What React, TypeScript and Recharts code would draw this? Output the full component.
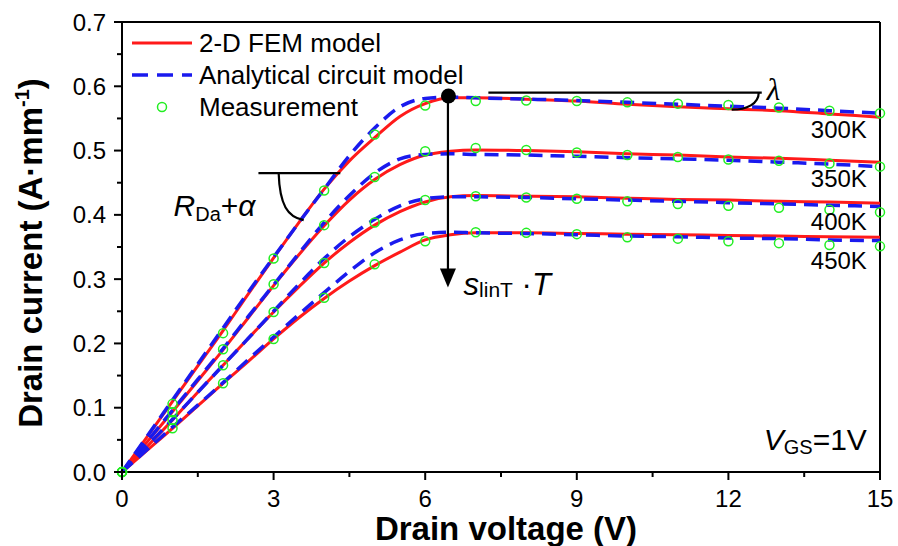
import { ComposedChart, Line, Scatter, XAxis, YAxis, ReferenceLine, ReferenceDot, Legend } from "recharts"

const FONT = "'Liberation Sans', Arial, Helvetica, sans-serif"
const RED = "#ff1a1a"
const BLUE = "#1a1aee"
const GREEN = "#22ee22"

// drain voltage grid of the model curves (V)
const curveVoltages = [0, 0.5, 1, 1.5, 2, 2.5, 3, 3.5, 4, 4.5, 5, 5.5, 6, 6.5, 7, 8, 9, 10, 11, 12, 13, 14, 15]

// 2-D FEM model (A/mm)
const fem300 = [0, 0.055, 0.11, 0.165, 0.22, 0.277, 0.333, 0.388, 0.44, 0.484, 0.52, 0.553, 0.573, 0.582, 0.582, 0.58, 0.577, 0.572, 0.568, 0.565, 0.562, 0.557, 0.552]
const fem350 = [0, 0.047, 0.094, 0.142, 0.19, 0.24, 0.29, 0.338, 0.383, 0.423, 0.455, 0.478, 0.493, 0.499, 0.501, 0.5, 0.498, 0.495, 0.493, 0.49, 0.488, 0.485, 0.482]
const fem400 = [0, 0.04, 0.081, 0.124, 0.166, 0.208, 0.249, 0.288, 0.325, 0.357, 0.384, 0.405, 0.42, 0.428, 0.43, 0.429, 0.428, 0.426, 0.424, 0.423, 0.421, 0.42, 0.418]
const fem450 = [0, 0.034, 0.068, 0.103, 0.138, 0.172, 0.207, 0.24, 0.27, 0.297, 0.321, 0.342, 0.361, 0.369, 0.372, 0.372, 0.371, 0.37, 0.369, 0.368, 0.367, 0.366, 0.365]

// analytical circuit model (A/mm)
const ana300 = [0, 0.056, 0.112, 0.168, 0.224, 0.28, 0.334, 0.388, 0.44, 0.492, 0.535, 0.568, 0.581, 0.583, 0.582, 0.58, 0.578, 0.575, 0.572, 0.569, 0.566, 0.562, 0.558]
const ana350 = [0, 0.048, 0.096, 0.144, 0.192, 0.242, 0.291, 0.34, 0.388, 0.43, 0.465, 0.487, 0.494, 0.495, 0.494, 0.493, 0.491, 0.489, 0.487, 0.485, 0.482, 0.479, 0.475]
const ana400 = [0, 0.041, 0.082, 0.124, 0.166, 0.208, 0.25, 0.292, 0.332, 0.366, 0.393, 0.414, 0.425, 0.428, 0.428, 0.427, 0.425, 0.423, 0.421, 0.419, 0.417, 0.415, 0.413]
const ana450 = [0, 0.035, 0.07, 0.104, 0.139, 0.175, 0.21, 0.245, 0.279, 0.312, 0.341, 0.361, 0.371, 0.373, 0.372, 0.371, 0.369, 0.367, 0.366, 0.364, 0.363, 0.361, 0.36]

// measurement (A/mm)
const measVoltages = [0, 1, 2, 3, 4, 5, 6, 7, 8, 9, 10, 11, 12, 13, 14, 15]
const meas300 = [0, 0.106, 0.216, 0.332, 0.438, 0.525, 0.57, 0.577, 0.578, 0.577, 0.575, 0.573, 0.571, 0.567, 0.562, 0.558]
const meas350 = [0, 0.093, 0.191, 0.292, 0.384, 0.459, 0.499, 0.504, 0.501, 0.497, 0.493, 0.49, 0.486, 0.484, 0.48, 0.475]
const meas400 = [0, 0.081, 0.166, 0.249, 0.325, 0.388, 0.423, 0.429, 0.427, 0.425, 0.421, 0.417, 0.414, 0.411, 0.408, 0.404]
const meas450 = [0, 0.068, 0.138, 0.207, 0.271, 0.323, 0.359, 0.373, 0.372, 0.37, 0.365, 0.363, 0.359, 0.356, 0.353, 0.351]

const tempLabels = ["300K", "350K", "400K", "450K"]
const legendLabels = ["2-D FEM model", "Analytical circuit model", "Measurement"]
const xTicks = [0, 1.5, 3, 4.5, 6, 7.5, 9, 10.5, 12, 13.5, 15]
const yTicks = [0, 0.05, 0.1, 0.15, 0.2, 0.25, 0.3, 0.35, 0.4, 0.45, 0.5, 0.55, 0.6, 0.65, 0.7]

// where the temperature labels sit (current value of the baseline)
const tempLabelAt = [0.52, 0.443, 0.376, 0.316]

const toPoints = (vs: number[], is: number[]) => vs.map((v, k) => ({ v, i: is[k] }))

const femSeries = [fem300, fem350, fem400, fem450].map((s) => toPoints(curveVoltages, s))
const anaSeries = [ana300, ana350, ana400, ana450].map((s) => toPoints(curveVoltages, s))
const measSeries = [meas300, meas350, meas400, meas450].map((s) => toPoints(measVoltages, s))

const XTick = (props: any) => {
  const { x, y, payload } = props
  const major = payload.value % 3 === 0
  return (
    <g>
      <line x1={x} x2={x} y1={y} y2={y + (major ? 8 : 5)} stroke="#000" strokeWidth={2} />
      {major && (
        <text x={x} y={y + 35} textAnchor="middle" fontSize={24} fontFamily={FONT} fill="#000">
          {payload.value}
        </text>
      )}
    </g>
  )
}

const YTick = (props: any) => {
  const { x, y, payload } = props
  const major = Math.abs(payload.value * 10 - Math.round(payload.value * 10)) < 1e-6
  return (
    <g>
      <line x1={x} x2={x - (major ? 8 : 5)} y1={y} y2={y} stroke="#000" strokeWidth={2} />
      {major && (
        <text x={x - 16} y={y} dy="0.36em" textAnchor="end" fontSize={24} fontFamily={FONT} fill="#000">
          {payload.value.toFixed(1)}
        </text>
      )}
    </g>
  )
}

const XTitle = (props: any) => {
  const { x, y, width } = props.viewBox
  return (
    <text x={x + width / 2 + 5} y={y + 68} textAnchor="middle" fontSize={33} fontWeight="bold" fontFamily={FONT}>
      Drain voltage (V)
    </text>
  )
}

const YTitle = (props: any) => {
  const { y, height } = props.viewBox
  const cx = 42
  const cy = y + height / 2 + 6
  return (
    <text x={cx} y={cy} transform={`rotate(-90, ${cx}, ${cy})`} textAnchor="middle" fontSize={33} fontWeight="bold" fontFamily={FONT}>
      Drain current (A·mm
      <tspan fontSize={20} dy={-13}>-1</tspan>
      <tspan dy={13}>)</tspan>
    </text>
  )
}

const LegendBox = () => (
  <svg width={500} height={130} style={{ display: "block" }}>
    <line x1={132} x2={192} y1={43} y2={43} stroke={RED} strokeWidth={3} />
    <text x={199} y={52} fontSize={26} fontFamily={FONT}>{legendLabels[0]}</text>
    <line x1={132} x2={192} y1={75} y2={75} stroke={BLUE} strokeWidth={3.5} strokeDasharray="16 9" />
    <text x={199} y={84} fontSize={26} fontFamily={FONT}>{legendLabels[1]}</text>
    <circle cx={162} cy={107} r={4.5} fill="none" stroke={GREEN} strokeWidth={1.5} />
    <text x={199} y={116} fontSize={26} fontFamily={FONT}>{legendLabels[2]}</text>
  </svg>
)

const Ring = (p: any) => <circle cx={p.cx} cy={p.cy} r={4.5} fill="none" stroke={GREEN} strokeWidth={1.5} />

// black line drawn from whatever end points the reference line gets
const blackLine = (w: number) => (p: any) => (
  <line x1={p.x1} y1={p.y1} x2={p.x2} y2={p.y2} stroke="#000" strokeWidth={w} />
)

export default function App() {
  return (
    <div style={{ position: "absolute", left: 0, top: 0, background: "#fff" }}>
      <ComposedChart width={898} height={546} margin={{ top: 22, right: 18, bottom: 0, left: 0 }}>
        <XAxis
          type="number"
          dataKey="v"
          domain={[0, 15]}
          ticks={xTicks}
          interval={0}
          tickSize={0}
          tickMargin={0}
          tick={<XTick />}
          axisLine={{ stroke: "#000", strokeWidth: 2 }}
          height={74}
          label={<XTitle />}
        />
        <YAxis
          type="number"
          dataKey="i"
          domain={[0, 0.7]}
          ticks={yTicks}
          interval={0}
          tickSize={0}
          tickMargin={0}
          tick={<YTick />}
          axisLine={{ stroke: "#000", strokeWidth: 2 }}
          width={122}
          label={<YTitle />}
        />
        <Legend layout="horizontal" verticalAlign="middle" align="center" content={<LegendBox />} wrapperStyle={{ left: 0, top: 0, width: 500, height: 130 }} />
        <ReferenceLine y={0.7} ifOverflow="visible" shape={blackLine(2)} />
        <ReferenceLine x={15} ifOverflow="visible" shape={blackLine(2)} />

        {femSeries.map((d, k) => (
          <Line key={`fem${k}`} data={d} dataKey="i" type="monotone" stroke={RED} strokeWidth={3} dot={false} activeDot={false} isAnimationActive={false} />
        ))}
        {anaSeries.map((d, k) => (
          <Line key={`ana${k}`} data={d} dataKey="i" type="monotone" stroke={BLUE} strokeWidth={3.5} strokeDasharray="14 8" dot={false} activeDot={false} isAnimationActive={false} />
        ))}
        {measSeries.map((d, k) => (
          <Scatter key={`meas${k}`} data={d} dataKey="i" shape={<Ring />} isAnimationActive={false} />
        ))}

        {/* R_Da + alpha slope annotation */}
        <ReferenceLine segment={[{ x: 2.7, y: 0.465 }, { x: 4.32, y: 0.465 }]} ifOverflow="visible" shape={blackLine(2.2)} />
        <ReferenceDot
          x={3.1}
          y={0.465}
          shape={(p: any) => (
            <path d={`M${p.cx},${p.cy} C${p.cx + 1},${p.cy + 32} ${p.cx + 9},${p.cy + 44} ${p.cx + 25},${p.cy + 47}`} fill="none" stroke="#000" strokeWidth={2.2} />
          )}
        />
        <ReferenceDot
          x={1.02}
          y={0.399}
          shape={(p: any) => (
            <text x={p.cx} y={p.cy} fontSize={30} fontFamily={FONT}>
              <tspan fontStyle="italic">R</tspan>
              <tspan fontSize={20} dy={5}>Da</tspan>
              <tspan dy={-5}>+</tspan>
              <tspan fontStyle="italic">α</tspan>
            </text>
          )}
        />

        {/* lambda annotation */}
        <ReferenceLine segment={[{ x: 7.25, y: 0.59 }, { x: 12.66, y: 0.59 }]} ifOverflow="visible" shape={blackLine(2.2)} />
        <ReferenceDot
          x={12.6}
          y={0.59}
          shape={(p: any) => (
            <path d={`M${p.cx},${p.cy} C${p.cx},${p.cy + 11} ${p.cx - 12},${p.cy + 17} ${p.cx - 27},${p.cy + 17}`} fill="none" stroke="#000" strokeWidth={2.2} />
          )}
        />
        <ReferenceDot
          x={12.76}
          y={0.578}
          shape={(p: any) => (
            <text x={p.cx} y={p.cy} fontSize={31} fontStyle="italic" fontFamily="'Liberation Serif', 'Times New Roman', serif">
              λ
            </text>
          )}
        />

        {/* saturation point and temperature arrow */}
        <ReferenceLine segment={[{ x: 6.45, y: 0.585 }, { x: 6.45, y: 0.3 }]} ifOverflow="visible" shape={blackLine(2.2)} />
        <ReferenceDot
          x={6.45}
          y={0.287}
          shape={(p: any) => (
            <polygon points={`${p.cx - 8},${p.cy - 19} ${p.cx + 8},${p.cy - 19} ${p.cx},${p.cy}`} fill="#000" />
          )}
        />
        <ReferenceDot x={6.46} y={0.585} r={7.5} fill="#000" stroke="none" />
        <ReferenceDot
          x={6.76}
          y={0.275}
          shape={(p: any) => (
            <text x={p.cx} y={p.cy} fontSize={31} fontFamily={FONT}>
              <tspan fontStyle="italic">s</tspan>
              <tspan fontSize={21} dy={2}>linT</tspan>
              <tspan dy={-2}> ·</tspan>
              <tspan fontStyle="italic">T</tspan>
            </text>
          )}
        />

        {tempLabels.map((t, k) => (
          <ReferenceDot
            key={t}
            x={14.74}
            y={tempLabelAt[k]}
            shape={(p: any) => (
              <text x={p.cx} y={p.cy} textAnchor="end" fontSize={24} fontFamily={FONT}>
                {t}
              </text>
            )}
          />
        ))}

        <ReferenceDot
          x={14.74}
          y={0.034}
          shape={(p: any) => (
            <text x={p.cx} y={p.cy} textAnchor="end" fontSize={30} fontFamily={FONT}>
              <tspan fontStyle="italic">V</tspan>
              <tspan fontSize={20} dy={4}>GS</tspan>
              <tspan dy={-4}>=1V</tspan>
            </text>
          )}
        />
      </ComposedChart>
    </div>
  )
}
